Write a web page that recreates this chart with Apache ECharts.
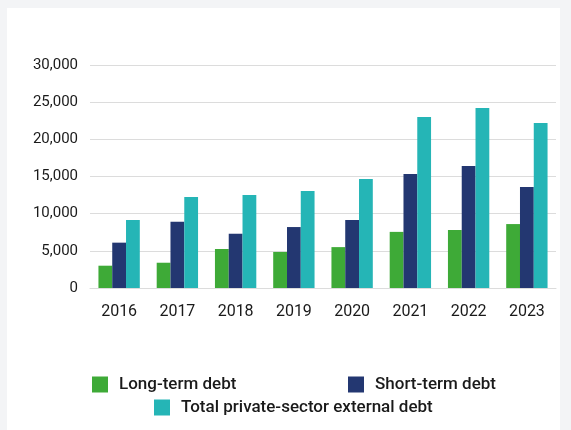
<!DOCTYPE html>
<html>
<head>
<meta charset="utf-8">
<script src="https://cdn.jsdelivr.net/npm/echarts@6/dist/echarts.min.js"></script>
<style>
  html, body { margin: 0; padding: 0; background: #f3f4f6; }
  #chart {
    position: absolute;
    left: 7px;
    top: 8px;
    width: 553px;
    height: 422px;
    background: #ffffff;
  }
</style>
</head>
<body>
<div id="chart"></div>
<script>
// data
const years = ['2016', '2017', '2018', '2019', '2020', '2021', '2022', '2023']
const longTerm = [3000, 3400, 5250, 4850, 5500, 7550, 7800, 8600]
const shortTerm = [6100, 8900, 7300, 8200, 9150, 15350, 16400, 13600]
const totalDebt = [9150, 12250, 12500, 13050, 14650, 23000, 24200, 22200]
const yTicks = [0, 5000, 10000, 15000, 20000, 25000, 30000]

const colors = {
  long: '#3eaa37',
  short: '#233771',
  total: '#25b5b6',
}

const legendText = {
  fontFamily: 'Roboto',
  fontSize: 17,
  fontWeight: 500,
  color: '#1a1a1a',
  padding: [0, 0, 0, 6],
}

function legendAt(name, left, top) {
  return {
    data: [name],
    left: left,
    top: top,
    icon: 'rect',
    itemWidth: 16,
    itemHeight: 16,
    itemGap: 0,
    textStyle: legendText,
    padding: 0,
    selectedMode: false,
  }
}

const chart = echarts.init(document.getElementById('chart'))
chart.setOption({
  animation: false,
  grid: {
    left: 83,
    right: 4,
    top: 57,
    bottom: 142,
  },
  legend: [
    legendAt('Long-term debt', 85, 368),
    legendAt('Short-term debt', 341, 368),
    legendAt('Total private-sector external debt', 147, 391),
  ],
  xAxis: {
    type: 'category',
    data: years,
    axisLine: { lineStyle: { color: '#dcdcdc' } },
    axisTick: { show: false },
    axisLabel: {
      fontFamily: 'Roboto',
      fontSize: 16,
      color: '#1a1a1a',
      margin: 16,
    },
  },
  yAxis: {
    type: 'value',
    min: yTicks[0],
    max: yTicks[yTicks.length - 1],
    interval: 5000,
    axisLine: { show: false },
    axisTick: { show: false },
    splitLine: { lineStyle: { color: '#dcdcdc' } },
    axisLabel: {
      fontFamily: 'Roboto',
      fontSize: 15,
      color: '#1a1a1a',
      margin: 12,
      formatter: v => v.toLocaleString('en-US'),
    },
  },
  series: [
    {
      name: 'Long-term debt',
      type: 'bar',
      data: longTerm,
      itemStyle: { color: colors.long },
      barGap: '0%',
      barCategoryGap: '29%',
    },
    {
      name: 'Short-term debt',
      type: 'bar',
      data: shortTerm,
      itemStyle: { color: colors.short },
    },
    {
      name: 'Total private-sector external debt',
      type: 'bar',
      data: totalDebt,
      itemStyle: { color: colors.total },
    },
  ],
})
</script>
</body>
</html>
